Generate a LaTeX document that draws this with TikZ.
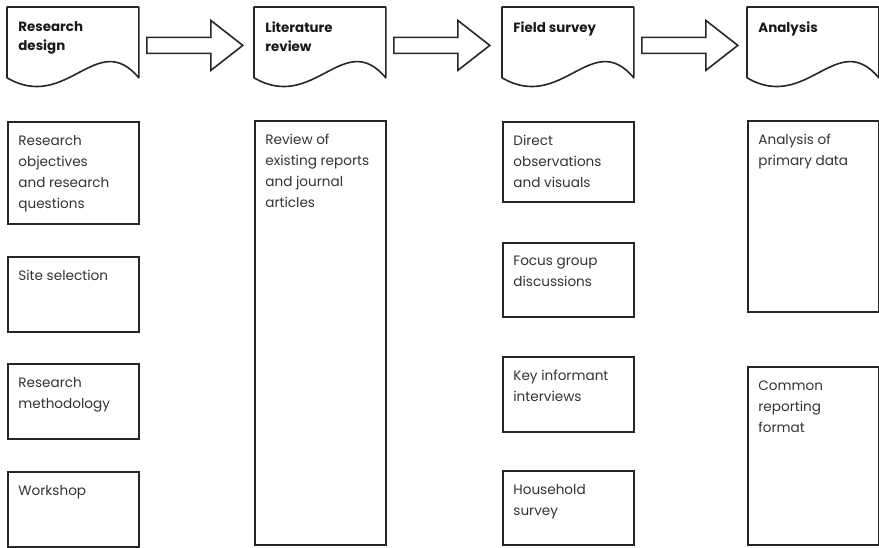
\documentclass[tikz,border=0pt]{standalone}
\usepackage{fontspec}
\setmainfont{Poppins}
\usetikzlibrary{calc}

\tikzset{
  cell/.style={draw=black!85, line width=0.8pt, anchor=north west, inner sep=0pt,
    minimum width=65.5pt, minimum height=#1},
  txt/.style={anchor=north west, align=left, inner sep=0pt, xshift=5.5pt, yshift=-7pt,
    text=black!80, font=\fontsize{6.8}{10.5}\selectfont},
  hd/.style={anchor=north west, inner sep=0pt, minimum width=65.5pt, minimum height=35pt},
  hdtxt/.style={txt, text=black!90, font=\bfseries\fontsize{6.7}{9.5}\selectfont},
  docline/.style={draw=black!85, line width=0.8pt, line join=round},
  blockarrow/.style={draw=black!85, line width=0.8pt, line join=miter},
}

\begin{document}
\begin{tikzpicture}[x=0.5pt, y=-0.5pt]
    \useasboundingbox (0,0) rectangle (879,547);

    % stage headers (document shapes)
    \node[hd, label={[hdtxt]north west:{Research\\design}}] (hrd) at (7,7) {};
    \node[hd, label={[hdtxt]north west:{Literature\\review}}] (hlr) at (254,7) {};
    \node[hd, label={[hdtxt]north west:{Field survey}}] (hfs) at (502,7) {};
    \node[hd, label={[hdtxt]north west:{Analysis}}] (han) at (747,7) {};

    \foreach \h in {hrd,hlr,hfs,han}
        \draw[docline] (\h.north west) -- (\h.south west)
            .. controls +(30pt,-17.5pt) and +(-21pt,25pt) .. (\h.south east)
            -- (\h.north east) -- cycle;

    % hollow arrows between the stages
    \foreach \h in {hrd,hlr,hfs}
        \draw[blockarrow] ([shift={(4pt,2.5pt)}]\h.east) -- ++(32pt,0) -- ++(0,8.5pt)
            -- ++(16pt,-12.5pt) -- ++(-16pt,-12.5pt) -- ++(0,8.5pt) -- ++(-32pt,0) -- cycle;

    % research design
    \node[cell=51pt, label={[txt]north west:{Research\\objectives\\and research\\questions}}] (rd1) at (7,121) {};
    \node[cell=37.5pt, label={[txt]north west:{Site selection}}] (rd2) at (7,256) {};
    \node[cell=37.5pt, label={[txt]north west:{Research\\methodology}}] (rd3) at (7,363) {};
    \node[cell=37.5pt, label={[txt]north west:{Workshop}}] (rd4) at (7,471) {};

    % literature review
    \node[cell=212pt, label={[txt]north west:{Review of\\existing reports\\and journal\\articles}}] (lr1) at (254,120) {};

    % field survey
    \node[cell=40pt, label={[txt]north west:{Direct\\observations\\and visuals}}] (fs1) at (502,121) {};
    \node[cell=37pt, label={[txt]north west:{Focus group\\discussions}}] (fs2) at (502,242) {};
    \node[cell=37.5pt, label={[txt]north west:{Key informant\\interviews}}] (fs3) at (502,356) {};
    \node[cell=37pt, label={[txt]north west:{Household\\survey}}] (fs4) at (502,470) {};

    % analysis
    \node[cell=95.5pt, label={[txt]north west:{Analysis of\\primary data}}] (an1) at (747,120) {};
    \node[cell=89pt, label={[txt]north west:{Common\\reporting\\format}}] (an2) at (747,366) {};
\end{tikzpicture}
\end{document}
